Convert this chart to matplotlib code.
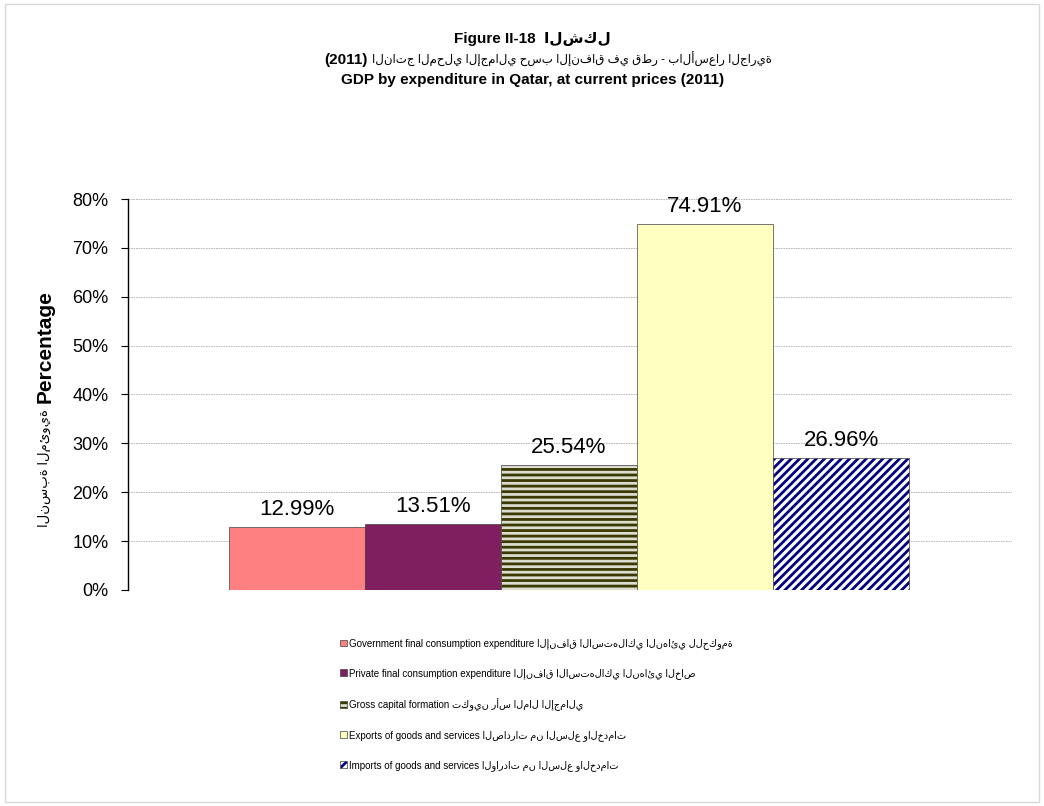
import matplotlib
matplotlib.use("Agg")
import matplotlib.pyplot as plt
from matplotlib.patches import Rectangle
from matplotlib.ticker import FuncFormatter

plt.rcParams['font.family'] = ['Liberation Sans', 'DejaVu Sans']
plt.rcParams['hatch.linewidth'] = 2.0

series_en = [
    "Government final consumption expenditure",
    "Private final consumption expenditure",
    "Gross capital formation",
    "Exports of goods and services",
    "Imports of goods and services",
]
series_ar = [
    "الإنفاق الاستهلاكي النهائي للحكومة",
    "الإنفاق الاستهلاكي النهائي الخاص",
    "تكوين رأس المال الإجمالي",
    "الصادرات من السلع والخدمات",
    "الواردات من السلع والخدمات",
]
shares = [0.1299, 0.1351, 0.2554, 0.7491, 0.2696]
yticks = [0, 0.1, 0.2, 0.3, 0.4, 0.5, 0.6, 0.7, 0.8]

faces = ["#ff8080", "#7f1f5f", "#dcdcd0", "#ffffc0", "white"]
hatches = [None, None, "---", None, "////"]
hatch_colors = [None, None, "#3a3a00", None, "#000080"]

fig = plt.figure(figsize=(10.44, 8.06), dpi=100)
fig.patches.append(Rectangle((0.005, 0.005), 0.99, 0.99, transform=fig.transFigure,
                             fill=False, edgecolor="#d9d9d9", linewidth=1))
ax = fig.add_axes([0.1226, 0.268, 0.8467, 0.4851])

for i, v in enumerate(shares):
    b = ax.bar(i, v, width=1.0, color=faces[i], edgecolor="#404040", linewidth=0.5,
               label=f"{series_en[i]} {series_ar[i]}")
    if hatches[i]:
        b[0].set_hatch(hatches[i])
        b[0]._hatch_color = matplotlib.colors.to_rgba(hatch_colors[i])
    ax.annotate(f"{v*100:.2f}%", (i, v), xytext=(0, 5), textcoords="offset points",
                ha="center", va="bottom", fontsize=16)

ax.set_xlim(-1.243, 5.257)
ax.set_ylim(0, 0.8)
ax.set_yticks(yticks)
ax.yaxis.set_major_formatter(FuncFormatter(lambda y, _: f"{y*100:.0f}%"))
ax.tick_params(axis="y", labelsize=13, length=5, pad=9, direction="out")
ax.set_xticks([])
for s in ["top", "right", "bottom"]:
    ax.spines[s].set_visible(False)
ax.spines["left"].set_linewidth(1.0)
ax.yaxis.grid(True, color="#b0b0b0", linestyle=(0, (2, 1)), linewidth=0.6)
ax.set_axisbelow(True)

# y label: bold English part above, Arabic part below
fig.text(0.043, 0.4995, "Percentage", rotation=90, ha="center", va="bottom",
         fontsize=15, fontweight="bold")
fig.text(0.043, 0.492, "النسبة المئوية", rotation=90, ha="center", va="top", fontsize=9.5)

fig.text(0.51, 0.951, "Figure II-18  الشكل", ha="center", va="center", fontsize=11, fontweight="bold")
fig.text(0.352, 0.926, "(2011)", ha="right", va="center", fontsize=11, fontweight="bold")
fig.text(0.356, 0.926, "الناتج المحلي الإجمالي حسب الإنفاق في قطر - بالأسعار الجارية",
         ha="left", va="center", fontsize=8.5)
fig.text(0.51, 0.901, "GDP by expenditure in Qatar, at current prices (2011)",
         ha="center", va="center", fontsize=11, fontweight="bold")

fig.legend(loc="upper left", bbox_to_anchor=(0.326, 0.208), frameon=False, fontsize=7,
           handlelength=0.7, handleheight=0.7, handletextpad=0.2, labelspacing=1.95,
           borderpad=0, borderaxespad=0)

fig.savefig("out.png", dpi=100)
